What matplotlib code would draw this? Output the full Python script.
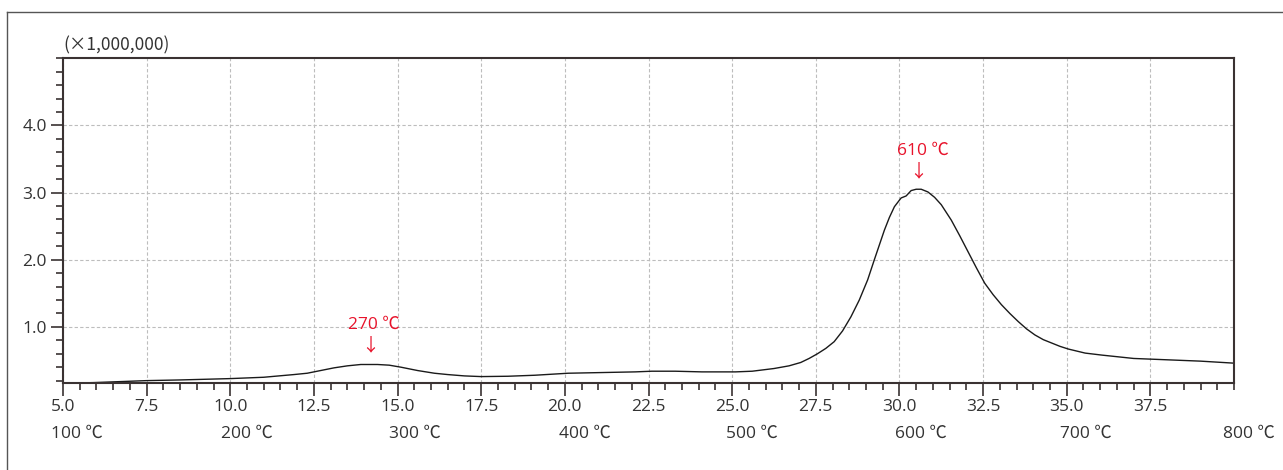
import matplotlib
matplotlib.use("Agg")
import matplotlib.pyplot as plt
from matplotlib.lines import Line2D
from matplotlib.ticker import MultipleLocator, FixedLocator, FormatStrFormatter
import matplotlib.transforms as mtransforms

# ---- data ----
x_vals = [5.0, 5.9, 6.7, 7.5, 8.5, 10.0, 11.0, 11.9, 12.3, 12.7, 13.1, 13.5, 13.9, 14.1, 14.4,
          14.75, 15.1, 15.6, 16.1, 16.5, 17.0, 17.5, 18.3, 19.1, 20.1, 21.1, 22.1, 22.6,
          23.3, 24.1, 25.1, 25.6, 26.25, 26.7, 27.05, 27.3, 27.55, 27.8, 28.05, 28.3,
          28.55, 28.8, 29.05, 29.25, 29.4, 29.55, 29.7, 29.85, 30.05, 30.2, 30.35, 30.5,
          30.65, 30.85, 31.05, 31.25, 31.55, 31.8, 32.05, 32.3, 32.55, 32.8, 33.05, 33.3,
          33.55, 33.8, 34.05, 34.3, 34.55, 34.8, 35.05, 35.3, 35.55, 36.05, 37.0, 38.0,
          39.0, 40.0]
y_vals = [0.16, 0.17, 0.185, 0.20, 0.21, 0.23, 0.25, 0.29, 0.31, 0.35, 0.39, 0.42, 0.44,
          0.44, 0.44, 0.43, 0.40, 0.35, 0.31, 0.29, 0.27, 0.26, 0.265, 0.28, 0.31, 0.32,
          0.33, 0.34, 0.34, 0.33, 0.33, 0.34, 0.38, 0.42, 0.47, 0.53, 0.60, 0.68, 0.78,
          0.94, 1.15, 1.40, 1.70, 2.00, 2.22, 2.44, 2.63, 2.79, 2.92, 2.95, 3.03, 3.05,
          3.05, 3.01, 2.93, 2.82, 2.59, 2.36, 2.12, 1.88, 1.65, 1.48, 1.33, 1.20, 1.08,
          0.97, 0.88, 0.81, 0.76, 0.71, 0.67, 0.64, 0.61, 0.58, 0.53, 0.51, 0.49, 0.46]

y_tick_vals = [1.0, 2.0, 3.0, 4.0]
temp_labels = ["100 ℃", "200 ℃", "300 ℃", "400 ℃", "500 ℃", "600 ℃", "700 ℃", "800 ℃"]
temp_pos = [5.42, 10.5, 15.52, 20.6, 25.6, 30.65, 35.58, 40.45]

peak_labels = ["270 ℃", "610 ℃"]
peak_x = [14.2, 30.6]
peak_y = [0.44, 3.05]

FONT = ["Open Sans", "Noto Sans CJK JP", "DejaVu Sans"]
plt.rcParams["font.family"] = FONT
TXT = "#333333"
RED = "#e8132b"
FS = 12.5

fig = plt.figure(figsize=(12.83, 4.70), dpi=100)
ax = fig.add_axes([63 / 1283, 1 - 383.3 / 470, (1234 - 63) / 1283, (383.3 - 58.3) / 470])

ax.plot(x_vals, y_vals, color="#1a1a1a", lw=1.0)

ax.set_xlim(5.0, 40.0)
ax.set_ylim(0.16, 5.0)

ax.xaxis.set_minor_locator(MultipleLocator(0.5))
ax.xaxis.set_major_locator(FixedLocator([5.0 + 2.5 * i for i in range(14)]))
ax.xaxis.set_major_formatter(FormatStrFormatter("%.1f"))
ax.yaxis.set_major_locator(FixedLocator(y_tick_vals))
ax.yaxis.set_minor_locator(MultipleLocator(0.2))
ax.yaxis.set_major_formatter(FormatStrFormatter("%.1f"))

ax.tick_params(axis="both", which="major", direction="out", length=9, width=1.2,
               color="#3a3232", labelsize=FS, labelcolor=TXT, pad=2.5)
ax.tick_params(axis="both", which="minor", direction="out", length=5, width=1.2,
               color="#3a3232")

for s in ax.spines.values():
    s.set_color("#3a3232")
    s.set_linewidth(1.5)

ax.grid(True, which="major", color="#bdbdbd", linestyle=(0, (3, 2)), linewidth=0.8)
ax.set_axisbelow(True)

# temperature row
trans = mtransforms.blended_transform_factory(ax.transData, fig.transFigure)
for lbl, xp in zip(temp_labels, temp_pos):
    fig.text(xp, 1 - 434 / 470, lbl, transform=trans, ha="center", va="center",
             fontsize=FS, color=TXT, family=FONT, clip_on=False)

# multiplier label
fig.text(63 / 1283, 1 - 45 / 470, "(×1,000,000)", ha="left", va="center",
         fontsize=FS, color=TXT, family=["Noto Sans CJK JP", "DejaVu Sans"])

# peak annotations
label_offsets = [0.59, 0.58]
arrow_offsets = [0.29, 0.26]
for lbl, px, py, lo, ao in zip(peak_labels, peak_x, peak_y, label_offsets, arrow_offsets):
    ax.text(px + 0.1, py + lo, lbl, ha="center", va="center", fontsize=FS, color=RED,
            family=FONT)
    ax.text(px - 0.03, py + ao, "↓", ha="center", va="center", fontsize=13, color=RED,
            family=["Noto Sans CJK JP", "DejaVu Sans"])

# figure frame (left and top)
fig.add_artist(Line2D([7 / 1283, 7 / 1283], [0, 1 - 12 / 470], transform=fig.transFigure,
                      color="#555555", lw=1.0))
fig.add_artist(Line2D([7 / 1283, 1], [1 - 12 / 470, 1 - 12 / 470], transform=fig.transFigure,
                      color="#555555", lw=1.0))

fig.savefig("out.png", dpi=100)
